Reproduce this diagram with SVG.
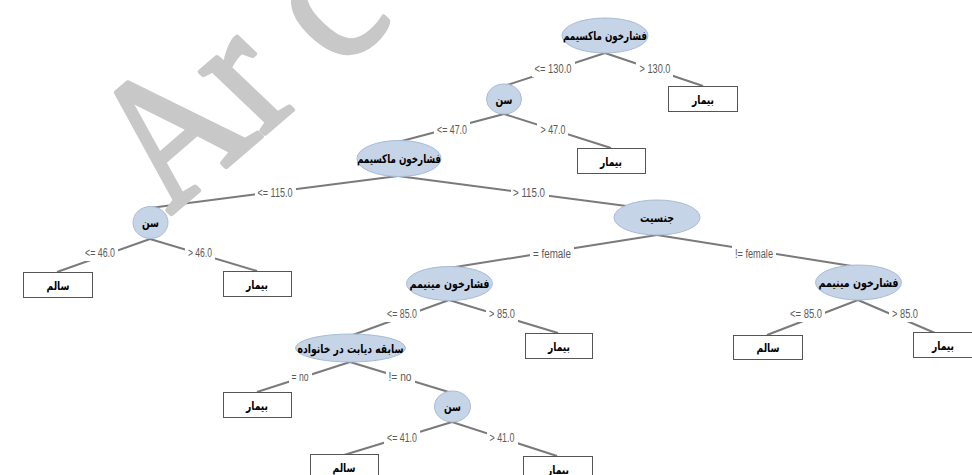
<svg xmlns="http://www.w3.org/2000/svg" width="972" height="475" viewBox="0 0 972 475">
<style>
.e{stroke:#7a7a7a;stroke-width:2;fill:none}
.lb{fill:#ffffff}
.lt{font-family:"Liberation Sans",Arial,sans-serif;font-size:12px;fill:#5a5a5a;text-anchor:middle}
.n{fill:#c6d4e7;stroke:#a8bbd5;stroke-width:1}
.b{fill:#ffffff;stroke:#555555;stroke-width:1}
.t{font-family:"DejaVu Sans","Noto Sans",sans-serif;font-size:12px;font-weight:bold;fill:#000000;text-anchor:middle}
.wm{font-family:"Liberation Serif","Times New Roman",serif;font-size:100px;fill:#c8c8c8;stroke:#c8c8c8;stroke-width:2.5;stroke-linejoin:round}
</style>
<rect width="972" height="475" fill="#ffffff"/>
<g id="connectors">
<line class="e" x1="605" y1="53" x2="504" y2="86"/>
<line class="e" x1="605" y1="53" x2="703" y2="86"/>
<line class="e" x1="504" y1="114" x2="398" y2="142"/>
<line class="e" x1="504" y1="114" x2="611" y2="148"/>
<line class="e" x1="398" y1="176" x2="150" y2="208"/>
<line class="e" x1="398" y1="176" x2="657" y2="210"/>
<line class="e" x1="150" y1="239" x2="57" y2="272"/>
<line class="e" x1="150" y1="239" x2="257" y2="271"/>
<line class="e" x1="657" y1="235" x2="449" y2="268"/>
<line class="e" x1="657" y1="235" x2="858" y2="267"/>
<line class="e" x1="449" y1="300" x2="350" y2="336"/>
<line class="e" x1="449" y1="300" x2="558" y2="333"/>
<line class="e" x1="858" y1="300" x2="767" y2="335"/>
<line class="e" x1="858" y1="300" x2="942" y2="336"/>
<line class="e" x1="350" y1="362" x2="257" y2="392"/>
<line class="e" x1="350" y1="362" x2="452" y2="393"/>
<line class="e" x1="452" y1="422" x2="344" y2="455"/>
<line class="e" x1="452" y1="422" x2="557" y2="456"/>
<g id="labels">
<rect class="lb" x="532" y="61" width="43" height="16"/><text class="lt" x="553" y="73" textLength="37" lengthAdjust="spacingAndGlyphs">&lt;= 130.0</text>
<rect class="lb" x="636" y="61" width="37" height="16"/><text class="lt" x="655" y="73" textLength="31" lengthAdjust="spacingAndGlyphs">&gt; 130.0</text>
<rect class="lb" x="434" y="122" width="36" height="16"/><text class="lt" x="452" y="134" textLength="30" lengthAdjust="spacingAndGlyphs">&lt;= 47.0</text>
<rect class="lb" x="537" y="122" width="31" height="16"/><text class="lt" x="553" y="134" textLength="25" lengthAdjust="spacingAndGlyphs">&gt; 47.0</text>
<rect class="lb" x="255" y="184" width="41" height="16"/><text class="lt" x="275" y="197" textLength="35" lengthAdjust="spacingAndGlyphs">&lt;= 115.0</text>
<rect class="lb" x="511" y="184" width="38" height="16"/><text class="lt" x="529" y="197" textLength="32" lengthAdjust="spacingAndGlyphs">&gt; 115.0</text>
<rect class="lb" x="82" y="245" width="36" height="16"/><text class="lt" x="100" y="257" textLength="30" lengthAdjust="spacingAndGlyphs">&lt;= 46.0</text>
<rect class="lb" x="185" y="245" width="30" height="16"/><text class="lt" x="200" y="257" textLength="24" lengthAdjust="spacingAndGlyphs">&gt; 46.0</text>
<rect class="lb" x="530" y="246" width="44" height="16"/><text class="lt" x="552" y="258" textLength="38" lengthAdjust="spacingAndGlyphs">= female</text>
<rect class="lb" x="732" y="246" width="44" height="16"/><text class="lt" x="754" y="258" textLength="38" lengthAdjust="spacingAndGlyphs">!= female</text>
<rect class="lb" x="384" y="306" width="36" height="16"/><text class="lt" x="402" y="318" textLength="30" lengthAdjust="spacingAndGlyphs">&lt;= 85.0</text>
<rect class="lb" x="486" y="306" width="32" height="16"/><text class="lt" x="502" y="318" textLength="26" lengthAdjust="spacingAndGlyphs">&gt; 85.0</text>
<rect class="lb" x="787" y="306" width="38" height="16"/><text class="lt" x="806" y="318" textLength="32" lengthAdjust="spacingAndGlyphs">&lt;= 85.0</text>
<rect class="lb" x="889" y="306" width="32" height="16"/><text class="lt" x="905" y="318" textLength="26" lengthAdjust="spacingAndGlyphs">&gt; 85.0</text>
<rect class="lb" x="289" y="369" width="23" height="16"/><text class="lt" x="300" y="381" textLength="17" lengthAdjust="spacingAndGlyphs">= no</text>
<rect class="lb" x="386" y="369" width="29" height="16"/><text class="lt" x="400" y="381" textLength="23" lengthAdjust="spacingAndGlyphs">!= no</text>
<rect class="lb" x="384" y="430" width="36" height="16"/><text class="lt" x="402" y="442" textLength="30" lengthAdjust="spacingAndGlyphs">&lt;= 41.0</text>
<rect class="lb" x="487" y="430" width="31" height="16"/><text class="lt" x="502" y="442" textLength="25" lengthAdjust="spacingAndGlyphs">&gt; 41.0</text>
</g>
</g>
<g id="n1"><ellipse class="n" cx="605" cy="35.5" rx="43" ry="17.5"/><text class="t" x="605" y="40" textLength="84" lengthAdjust="spacingAndGlyphs">فشارخون ماکسیمم</text></g>
<g id="leaf1"><rect class="b" x="668.5" y="86.5" width="69" height="25"/><text class="t" x="703" y="103.5" textLength="22" lengthAdjust="spacingAndGlyphs">بیمار</text></g>
<g id="n2"><ellipse class="n" cx="504" cy="99" rx="17.5" ry="15"/><text class="t" x="504" y="103.5" textLength="17" lengthAdjust="spacingAndGlyphs">سن</text></g>
<g id="leaf2"><rect class="b" x="577.5" y="148.5" width="68" height="25"/><text class="t" x="611" y="165.5" textLength="22" lengthAdjust="spacingAndGlyphs">بیمار</text></g>
<g id="n3"><ellipse class="n" cx="399" cy="158.5" rx="42" ry="18"/><text class="t" x="399" y="163" textLength="84" lengthAdjust="spacingAndGlyphs">فشارخون ماکسیمم</text></g>
<g id="n4"><ellipse class="n" cx="150.5" cy="222.5" rx="17.5" ry="16"/><text class="t" x="150.5" y="227" textLength="17" lengthAdjust="spacingAndGlyphs">سن</text></g>
<g id="leaf3"><rect class="b" x="23.5" y="272.5" width="69" height="25"/><text class="t" x="58" y="289.5" textLength="23" lengthAdjust="spacingAndGlyphs">سالم</text></g>
<g id="leaf4"><rect class="b" x="223.5" y="271.5" width="68" height="25"/><text class="t" x="257" y="288.5" textLength="22" lengthAdjust="spacingAndGlyphs">بیمار</text></g>
<g id="n5"><ellipse class="n" cx="657" cy="217.5" rx="43" ry="17.5"/><text class="t" x="657" y="222" textLength="34" lengthAdjust="spacingAndGlyphs">جنسیت</text></g>
<g id="n6"><ellipse class="n" cx="449.5" cy="283.5" rx="43" ry="17"/><text class="t" x="449.5" y="288" textLength="80" lengthAdjust="spacingAndGlyphs">فشارخون مینیمم</text></g>
<g id="n7"><ellipse class="n" cx="858.5" cy="282.5" rx="43" ry="17.5"/><text class="t" x="858.5" y="287" textLength="80" lengthAdjust="spacingAndGlyphs">فشارخون مینیمم</text></g>
<g id="leaf5"><rect class="b" x="525.5" y="333.5" width="67" height="25"/><text class="t" x="559" y="350.5" textLength="22" lengthAdjust="spacingAndGlyphs">بیمار</text></g>
<g id="leaf6"><rect class="b" x="733.5" y="335.5" width="69" height="24"/><text class="t" x="768" y="352" textLength="23" lengthAdjust="spacingAndGlyphs">سالم</text></g>
<g id="leaf7"><rect class="b" x="913.5" y="332.5" width="62" height="25"/><text class="t" x="943" y="349.5" textLength="22" lengthAdjust="spacingAndGlyphs">بیمار</text></g>
<g id="n8"><ellipse class="n" cx="350.5" cy="348" rx="55" ry="14"/><text class="t" x="350.5" y="352.5" textLength="106" lengthAdjust="spacingAndGlyphs">سابقه دیابت در خانواده</text></g>
<g id="leaf8"><rect class="b" x="223.5" y="392.5" width="68" height="25"/><text class="t" x="257" y="409.5" textLength="22" lengthAdjust="spacingAndGlyphs">بیمار</text></g>
<g id="n9"><ellipse class="n" cx="452.5" cy="406.5" rx="18" ry="15.5"/><text class="t" x="452.5" y="411" textLength="17" lengthAdjust="spacingAndGlyphs">سن</text></g>
<g id="leaf9"><rect class="b" x="310.5" y="454.5" width="68" height="25"/><text class="t" x="344" y="471.5" textLength="23" lengthAdjust="spacingAndGlyphs">سالم</text></g>
<g id="leaf10"><rect class="b" x="523.5" y="456.5" width="69" height="25"/><text class="t" x="558" y="473.5" textLength="22" lengthAdjust="spacingAndGlyphs">بیمار</text></g>
<text class="wm" transform="matrix(1.28 -1.10 1.41 1.34 170 215)" x="0 72 132">Arc</text>
</svg>
